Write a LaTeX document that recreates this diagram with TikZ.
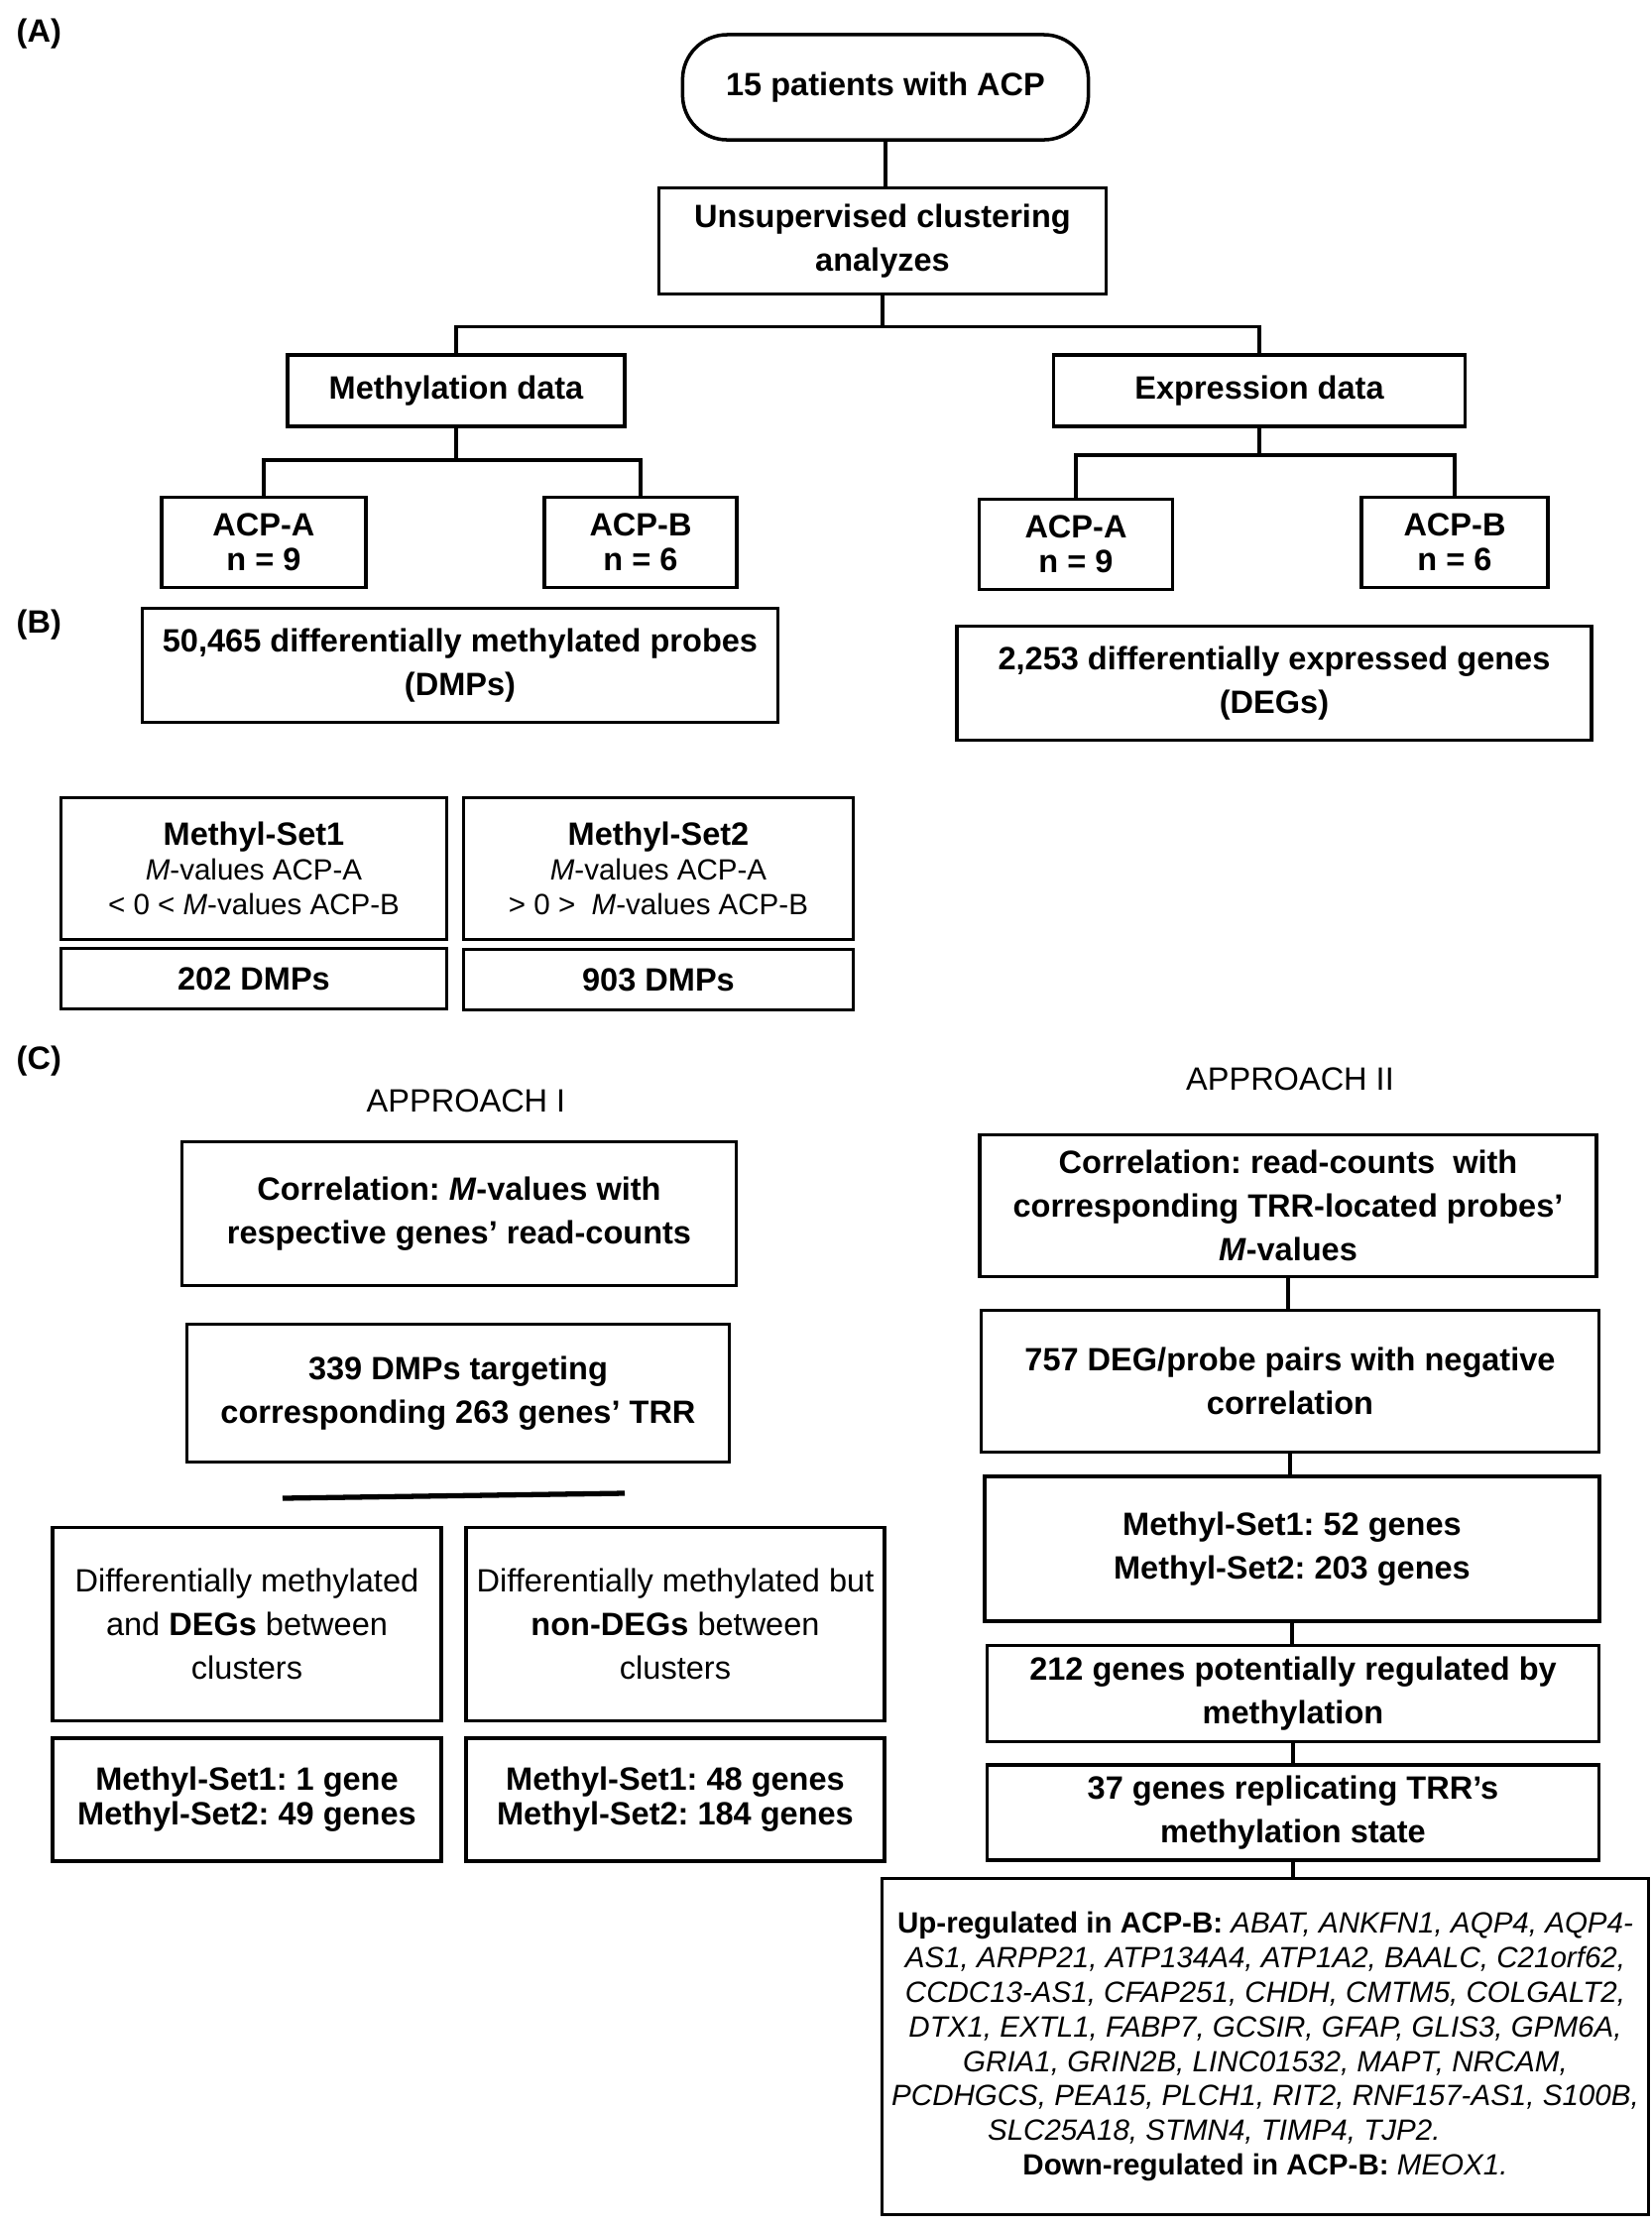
\documentclass[tikz,border=0pt]{standalone}
\usepackage{fontspec}
\setmainfont{Liberation Sans}
\frenchspacing
\newcommand{\bigsz}{\fontsize{9.25}{12.6}\selectfont}
\newcommand{\tightsz}{\fontsize{9.25}{10}\selectfont}
\newcommand{\smallsz}{\fontsize{8.4}{9.9}\selectfont}
\tikzset{
  box/.style = {draw, line width = 1pt, inner sep = 0pt, align = center, font = \bigsz\bfseries},
  lbl/.style = {font = \bigsz\bfseries, inner sep = 0pt, anchor = north west},
  link/.style = {line width = 1pt},
}
\begin{document}
\begin{tikzpicture}[x = 0.01cm, y = -0.01cm]
        \useasboundingbox (0,0) rectangle (1666,2247);

        % (A) clustering
        \node[lbl] (labA) at (16,18) {(A)};
        \node[box, rounded corners = 0.45cm, minimum width = 4.09cm, minimum height = 1.06cm] (patients) at (893,88) {15 patients with ACP};
        \node[box, minimum width = 4.51cm, minimum height = 1.07cm] (cluster) at (890,243) {Unsupervised clustering\\analyzes};
        \node[box, minimum width = 3.40cm, minimum height = 0.72cm] (methdata) at (460,394) {Methylation data};
        \node[box, minimum width = 4.15cm, minimum height = 0.72cm] (exprdata) at (1270,394) {Expression data};

        \node[box, font = \tightsz\bfseries, minimum width = 2.06cm, minimum height = 0.91cm] (methA) at (266,547) {ACP-A\\n = 9};
        \node[box, font = \tightsz\bfseries, minimum width = 1.94cm, minimum height = 0.91cm] (methB) at (646,547) {ACP-B\\n = 6};
        \node[box, font = \tightsz\bfseries, minimum width = 1.95cm, minimum height = 0.91cm] (exprA) at (1085,549) {ACP-A\\n = 9};
        \node[box, font = \tightsz\bfseries, minimum width = 1.88cm, minimum height = 0.91cm] (exprB) at (1467,547) {ACP-B\\n = 6};

        \draw[link] (patients.south) -- (patients.south |- cluster.north);
        \draw[link] (cluster.south) -- ++(0,31) coordinate (split);
        \draw[link] (methdata.north) |- (split) -| (exprdata.north);
        \draw[link] (methdata.south) -- ++(0,32) coordinate (methsplit);
        \draw[link] (methA.north) |- (methsplit) -| (methB.north);
        \draw[link] (exprdata.south) -- ++(0,27) coordinate (exprsplit);
        \draw[link] (exprA.north) |- (exprsplit) -| (exprB.north);

        % (B) differential analysis
        \node[lbl] (labB) at (16,614) {(B)};
        \node[box, minimum width = 6.41cm, minimum height = 1.15cm] (dmps) at (464,671) {50,465 differentially methylated probes\\(DMPs)};
        \node[box, minimum width = 6.40cm, minimum height = 1.15cm] (degs) at (1285,689) {2,253 differentially expressed genes\\(DEGs)};

        \node[box, font = \smallsz, minimum width = 3.89cm, minimum height = 1.43cm] (set1) at (256,876)
        {{\fontsize{9.25}{10}\selectfont\bfseries Methyl-Set1}\\\textit{M}-values ACP-A\\< 0 < \textit{M}-values ACP-B};
        \node[box, font = \smallsz, minimum width = 3.93cm, minimum height = 1.43cm] (set2) at (664,876)
        {{\fontsize{9.25}{10}\selectfont\bfseries Methyl-Set2}\\\textit{M}-values ACP-A\\> 0 >\ \ \textit{M}-values ACP-B};
        \node[box, minimum width = 3.89cm, minimum height = 0.61cm] (dmp1) at (256,987) {202 DMPs};
        \node[box, minimum width = 3.93cm, minimum height = 0.61cm] (dmp2) at (664,988) {903 DMPs};

        % (C) approach I
        \node[lbl] (labC) at (16,1054) {(C)};
        \node[font = \bigsz, inner sep = 0pt] (appI) at (470,1110) {APPROACH I};
        \node[box, minimum width = 5.59cm, minimum height = 1.45cm] (corrI) at (463,1224) {Correlation: \textit{M}-values with\\respective genes' read-counts};
        \node[box, minimum width = 5.47cm, minimum height = 1.39cm] (targets) at (462,1405) {339 DMPs targeting\\corresponding 263 genes' TRR};
        \coordinate (barL) at (285,1511);
        \coordinate (barR) at (630,1506);
        \draw[line width = 1.5pt] (barL) -- (barR);

        \node[box, font = \bigsz, minimum width = 3.92cm, minimum height = 1.95cm] (diffdeg) at (249,1638) {Differentially methylated\\and \textbf{DEGs} between\\clusters};
        \node[box, font = \bigsz, minimum width = 4.22cm, minimum height = 1.95cm] (diffnon) at (681,1638) {Differentially methylated but\\\textbf{non-DEGs} between\\clusters};
        \node[box, font = \tightsz\bfseries, minimum width = 3.92cm, minimum height = 1.24cm] (cntdeg) at (249,1815) {Methyl-Set1: 1 gene\\Methyl-Set2: 49 genes};
        \node[box, font = \tightsz\bfseries, minimum width = 4.22cm, minimum height = 1.24cm] (cntnon) at (681,1815) {Methyl-Set1: 48 genes\\Methyl-Set2: 184 genes};

        % (C) approach II
        \node[font = \bigsz, inner sep = 0pt] (appII) at (1301,1088) {APPROACH II};
        \node[box, minimum width = 6.22cm, minimum height = 1.43cm] (corrII) at (1299,1216) {Correlation: read-counts\ \ with\\corresponding TRR-located probes'\\\textit{M}-values};
        \node[box, minimum width = 6.23cm, minimum height = 1.43cm] (pairs) at (1301,1393) {757 DEG/probe pairs with negative\\correlation};
        \node[box, minimum width = 6.20cm, minimum height = 1.46cm] (sets) at (1303,1562) {Methyl-Set1: 52 genes\\Methyl-Set2: 203 genes};
        \node[box, minimum width = 6.17cm, minimum height = 0.97cm] (regul) at (1304,1708) {212 genes potentially regulated by\\methylation};
        \node[box, minimum width = 6.17cm, minimum height = 0.96cm] (replic) at (1304,1828) {37 genes replicating TRR's\\methylation state};
        \node[box, font = \smallsz, minimum width = 7.73cm, minimum height = 3.39cm] (genelist) at (1276,2064)
        {\textbf{Up-regulated in ACP-B:} \textit{ABAT, ANKFN1, AQP4, AQP4-}\\
         \textit{AS1, ARPP21, ATP134A4, ATP1A2, BAALC, C21orf62,}\\
         \textit{CCDC13-AS1, CFAP251, CHDH, CMTM5, COLGALT2,}\\
         \textit{DTX1, EXTL1, FABP7, GCSIR, GFAP, GLIS3, GPM6A,}\\
         \textit{GRIA1, GRIN2B, LINC01532, MAPT, NRCAM,}\\
         \textit{PCDHGCS, PEA15, PLCH1, RIT2, RNF157-AS1, S100B,}\\
         \textit{SLC25A18, STMN4, TIMP4, TJP2.}\hspace{3.5em}\mbox{}\\
         \textbf{Down-regulated in ACP-B:} \textit{MEOX1.}};

        \draw[link] (corrII.south) -- (corrII.south |- pairs.north);
        \draw[link] (pairs.south) -- (pairs.south |- sets.north);
        \draw[link] (sets.south) -- (sets.south |- regul.north);
        \draw[link] (regul.south) -- (regul.south |- replic.north);
        \draw[link] (replic.south) -- (replic.south |- genelist.north);
    \end{tikzpicture}
\end{document}
